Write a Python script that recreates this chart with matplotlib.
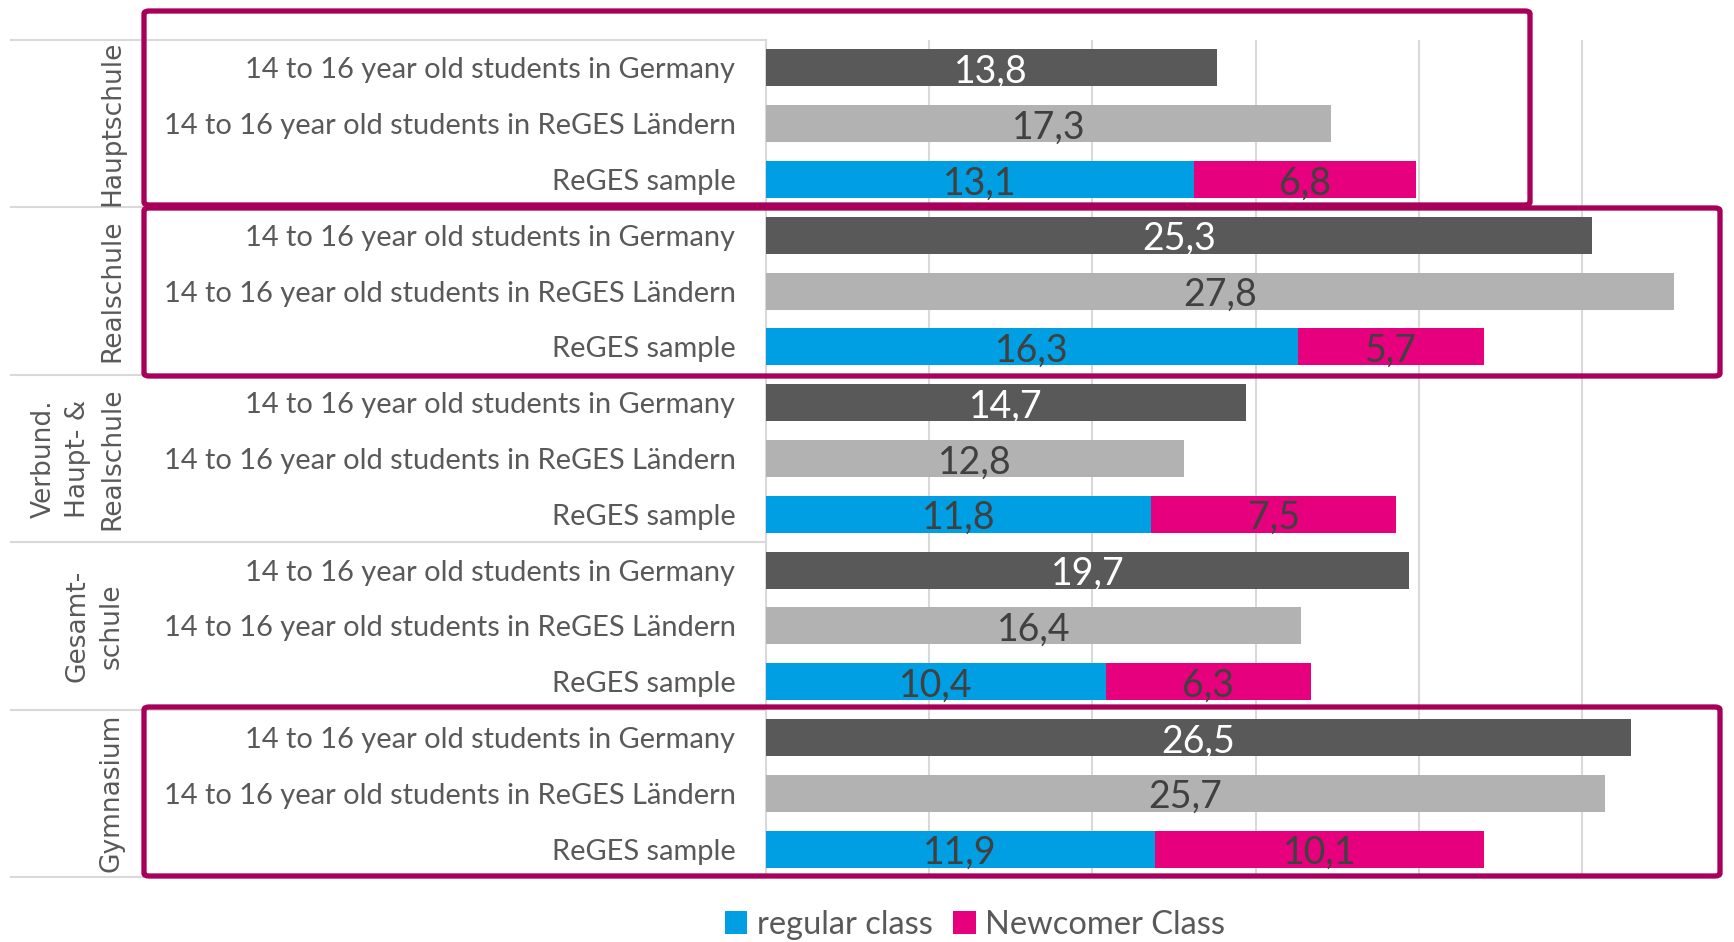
import numpy as np
import matplotlib.pyplot as plt
from matplotlib.patches import FancyBboxPatch
from matplotlib.transforms import blended_transform_factory

# data
groups = ['Hauptschule', 'Realschule', 'Verbund.\nHaupt- &\nRealschule',
          'Gesamt-\nschule', 'Gymnasium']
rows = ['14 to 16 year old students in Germany',
        '14 to 16 year old students in ReGES Ländern',
        'ReGES sample']
germany = [13.8, 25.3, 14.7, 19.7, 26.5]
laender = [17.3, 27.8, 12.8, 16.4, 25.7]
regular = [13.1, 16.3, 11.8, 10.4, 11.9]
newcomer = [6.8, 5.7, 7.5, 6.3, 10.1]

c_dark = '#595959'
c_light = '#B2B2B2'
c_blue = '#009FE3'
c_pink = '#E6007E'
c_box = '#A8005A'
c_grid = '#D9D9D9'
c_text = '#595959'
c_val = '#404040'

W, H = 1734, 942
fig = plt.figure(figsize=(W / 100, H / 100), dpi=100)
ax = fig.add_axes([766 / W, 1 - 877 / H, 1 - 766 / W, (877 - 40) / H])

n = len(groups)
y_g = np.arange(n) * 3
bh = 0.66

def fmt(v):
    return f'{v:.1f}'.replace('.', ',')

fs_val = 27
dy = 0.07
ax.barh(y_g, germany, height=bh, color=c_dark, zorder=3)
ax.barh(y_g + 1, laender, height=bh, color=c_light, zorder=3)
ax.barh(y_g + 2, regular, height=bh, color=c_blue, zorder=3, label='regular class')
ax.barh(y_g + 2, newcomer, left=regular, height=bh, color=c_pink, zorder=3,
        label='Newcomer Class')

for i in range(n):
    ax.text(germany[i] / 2, y_g[i] + dy, fmt(germany[i]), ha='center', va='center',
            color='white', fontsize=fs_val, family='Lato', zorder=4)
    ax.text(laender[i] / 2, y_g[i] + 1 + dy, fmt(laender[i]), ha='center', va='center',
            color=c_val, fontsize=fs_val, family='Lato', zorder=4)
    ax.text(regular[i] / 2, y_g[i] + 2 + dy, fmt(regular[i]), ha='center', va='center',
            color=c_val, fontsize=fs_val, family='Lato', zorder=4)
    ax.text(regular[i] + newcomer[i] / 2, y_g[i] + 2 + dy, fmt(newcomer[i]), ha='center',
            va='center', color=c_val, fontsize=fs_val, family='Lato', zorder=4)

ax.set_xlim(0, 29.65)
ax.set_ylim(3 * n - 0.5, -0.5)
ax.set_xticks([5, 10, 15, 20, 25])
ax.xaxis.grid(True, color=c_grid, linewidth=1.5, zorder=0)
ax.tick_params(axis='x', length=0, labelbottom=False)
ax.set_yticks(np.arange(3 * n))
ax.set_yticklabels(rows * n, fontsize=20.9, family='Lato', color=c_text)
ax.tick_params(axis='y', length=0, pad=22)
for s in ['top', 'right', 'bottom']:
    ax.spines[s].set_visible(False)
ax.spines['left'].set_color(c_grid)
ax.spines['left'].set_linewidth(1.5)

# group separators and labels on the left
tr = blended_transform_factory(ax.transAxes, ax.transData)
x0 = (11 - 766) / (W - 766)
for k in range(n + 1):
    ax.plot([x0, 0], [3 * k - 0.5] * 2, color=c_grid, lw=1.5, transform=tr,
            clip_on=False)
xg = (125 - 766) / (W - 766)
for i, g in enumerate(groups):
    ax.text(xg, y_g[i] + 1, g, rotation=90, ha='right', va='center',
            multialignment='center', linespacing=1.4, fontsize=19,
            family='DejaVu Sans', color=c_text, transform=tr)

# highlight boxes (pixel coords: x0, y_top, x1, y_bottom)
boxes = [(144, 11, 1530, 205), (144, 208, 1720, 376), (144, 707, 1720, 876)]
for bx0, by0, bx1, by1 in boxes:
    p = FancyBboxPatch((bx0 / W, 1 - by1 / H), (bx1 - bx0) / W, (by1 - by0) / H,
                       boxstyle='round,pad=0,rounding_size=0.003',
                       transform=fig.transFigure, fill=False, edgecolor=c_box,
                       linewidth=3.8, zorder=10)
    fig.patches.append(p)

fig.legend(loc='center', bbox_to_anchor=(975 / W, 1 - 925 / H), ncol=2,
           frameon=False, prop={'family': 'Lato', 'size': 23.5},
           handlelength=0.7, handleheight=0.7, handletextpad=0.3,
           columnspacing=0.6, labelcolor=c_text)

fig.savefig('out.png', dpi=100)
